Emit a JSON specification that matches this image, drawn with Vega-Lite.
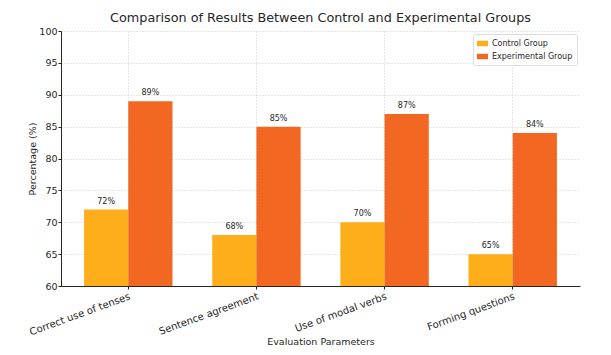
{
  "$schema": "https://vega.github.io/schema/vega-lite/v6.json",
  "width": 519,
  "height": 255,
  "padding": {"left": 61, "top": 31, "right": 31, "bottom": 69},
  "autosize": {"type": "none"},
  "config": {
    "font": "DejaVu Sans",
    "view": {"stroke": null},
    "background": "white"
  },
  "title": {
    "text": "Comparison of Results Between Control and Experimental Groups",
    "font": "DejaVu Sans",
    "fontSize": 12.8,
    "fontWeight": "normal",
    "color": "#262626",
    "offset": 1
  },
  "data": {
    "values": [
      {"param": "Correct use of tenses", "group": "Control Group", "value": 72},
      {"param": "Correct use of tenses", "group": "Experimental Group", "value": 89},
      {"param": "Sentence agreement", "group": "Control Group", "value": 68},
      {"param": "Sentence agreement", "group": "Experimental Group", "value": 85},
      {"param": "Use of modal verbs", "group": "Control Group", "value": 70},
      {"param": "Use of modal verbs", "group": "Experimental Group", "value": 87},
      {"param": "Forming questions", "group": "Control Group", "value": 65},
      {"param": "Forming questions", "group": "Experimental Group", "value": 84}
    ]
  },
  "encoding": {
    "x": {
      "field": "param",
      "type": "nominal",
      "sort": null,
      "scale": {"paddingInner": 0.31, "paddingOuter": 0.18},
      "title": "Evaluation Parameters",
      "axis": {
        "labelAngle": -20,
        "labelAlign": "right",
        "labelBaseline": "top",
        "labelFontSize": 10,
        "labelColor": "#262626",
        "titleFontSize": 9.5,
        "titleFontWeight": "normal",
        "titleColor": "#262626",
        "titlePadding": 0,
        "domainColor": "#262626",
        "tickColor": "#262626",
        "tickSize": 3,
        "grid": true,
        "gridDash": [1, 2],
        "gridColor": "#cccccc"
      }
    },
    "xOffset": {"field": "group", "type": "nominal", "scale": {"paddingInner": 0, "paddingOuter": 0}},
    "y": {
      "field": "value",
      "type": "quantitative",
      "scale": {"domain": [60, 100], "nice": false, "zero": false},
      "title": "Percentage (%)",
      "axis": {
        "values": [60, 65, 70, 75, 80, 85, 90, 95, 100],
        "labelFontSize": 9.5,
        "labelColor": "#262626",
        "labelPadding": 1,
        "titleFontSize": 9.5,
        "titleFontWeight": "normal",
        "titleColor": "#262626",
        "titlePadding": 1,
        "domainColor": "#262626",
        "tickColor": "#262626",
        "tickSize": 3,
        "grid": true,
        "gridDash": [1, 2],
        "gridColor": "#cccccc"
      }
    }
  },
  "layer": [
    {
      "mark": {"type": "bar", "clip": true},
      "encoding": {
        "y2": {"datum": 60},
        "color": {
          "field": "group",
          "type": "nominal",
          "scale": {"domain": ["Control Group", "Experimental Group"], "range": ["#FDAE1A", "#F26722"]},
          "legend": {
            "title": null,
            "orient": "top-right",
            "offset": 3,
            "fillColor": "white",
            "strokeColor": "#dddddd",
            "padding": 4,
            "cornerRadius": 2,
            "labelFontSize": 8,
            "labelColor": "#262626",
            "symbolType": "M-1,-0.5H1V0.5H-1Z",
            "symbolSize": 120,
            "symbolStrokeWidth": 0,
            "rowPadding": 3
          }
        }
      }
    },
    {
      "transform": [{"calculate": "datum.value + '%'", "as": "lbl"}],
      "mark": {"type": "text", "baseline": "bottom", "dy": -4, "fontSize": 8, "color": "#262626"},
      "encoding": {
        "text": {"field": "lbl", "type": "nominal"},
        "detail": {"field": "group"}
      }
    }
  ]
}
